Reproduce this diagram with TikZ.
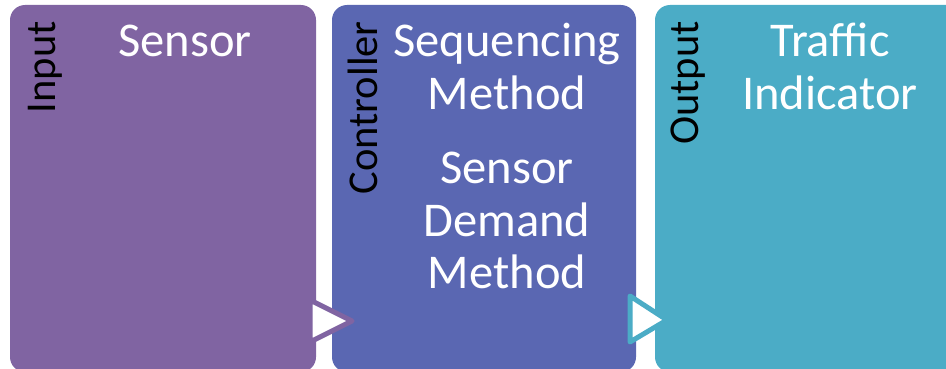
\documentclass[tikz,border=0pt]{standalone}
\usepackage{fontspec}
\setmainfont{Carlito}
\definecolor{cpurple}{RGB}{128,100,162}
\definecolor{cblue}{RGB}{90,103,178}
\definecolor{cteal}{RGB}{75,172,198}
\begin{document}
\begin{tikzpicture}[x=1pt,y=-1pt,
  panel/.style={rounded corners=15pt},
  title/.style={text=white, font=\fontsize{48.5}{53}\selectfont, inner sep=0, anchor=base},
  side/.style={text=black, font=\fontsize{42.5}{46}\selectfont, rotate=90, anchor=base east, inner sep=0},
  arrowtri/.style={fill=white, line width=5pt, line join=round}]
\useasboundingbox (0,0) rectangle (946,369);
\clip (0,0) rectangle (946,369);
% panels
\fill[cpurple, panel] (10,5) rectangle (316,372);
\fill[cblue, panel] (332,5) rectangle (636,372);
\fill[cteal, panel] (655,5) rectangle (962,372);
% arrows
\draw[arrowtri, draw=cpurple] (310,300) -- (310,342) -- (352,321) -- cycle;
\draw[arrowtri, draw=cteal] (630,296) -- (630,342) -- (667,320) -- cycle;
% side labels
\node[side] (lin) at (55,21) {Input};
\node[side] (lctl) at (377,21) {Controller};
\node[side] (lout) at (698,21) {Output};
% titles
\node[title] (t1) at (185,57) {Sensor};
\node[title] (t2a) at (507,57) {Sequencing};
\node[title] (t2b) at (507,110) {Method};
\node[title] (t2c) at (507,183) {Sensor};
\node[title] (t2d) at (507,236) {Demand};
\node[title] (t2e) at (507,288) {Method};
\node[title] (t3a) at (830,57) {Traffic};
\node[title] (t3b) at (830,110) {Indicator};
\end{tikzpicture}
\end{document}
